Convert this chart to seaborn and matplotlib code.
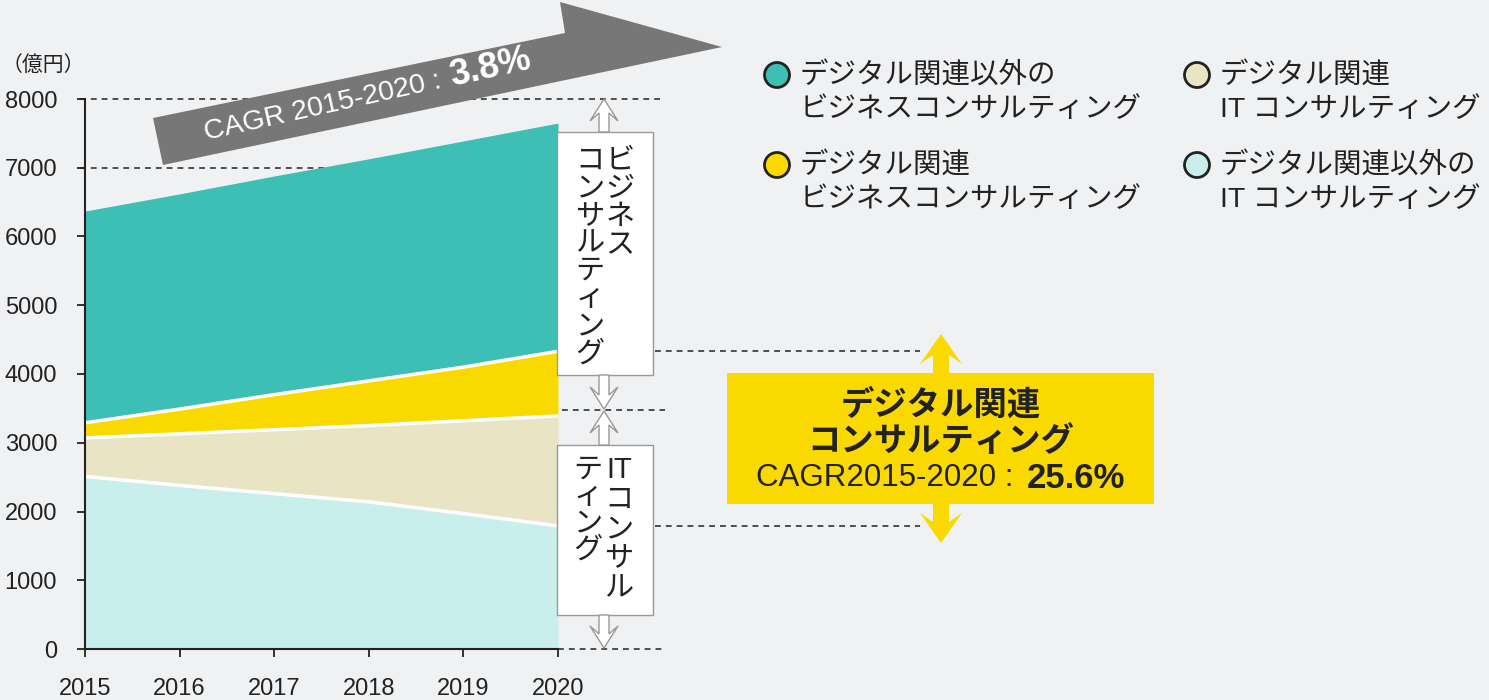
import matplotlib
matplotlib.use('Agg')
import matplotlib.pyplot as plt
import seaborn as sns
import pandas as pd
from matplotlib.patches import Polygon, Rectangle, Circle
from matplotlib.lines import Line2D
from matplotlib.transforms import Affine2D, blended_transform_factory

# data (億円)
years = [2015, 2016, 2017, 2018, 2019, 2020]
it_other = [2510, 2380, 2260, 2140, 1970, 1790]       # デジタル関連以外のITコンサルティング
it_digital = [560, 750, 930, 1110, 1350, 1600]        # デジタル関連ITコンサルティング
biz_digital = [220, 360, 510, 650, 780, 940]          # デジタル関連ビジネスコンサルティング
biz_other = [3080, 3130, 3180, 3230, 3290, 3320]      # デジタル関連以外のビジネスコンサルティング

layer_names = ['デジタル関連以外の\nIT コンサルティング', 'デジタル関連\nIT コンサルティング',
               'デジタル関連\nビジネスコンサルティング', 'デジタル関連以外の\nビジネスコンサルティング']
layer_colors = ['#c9efec', '#e9e4c4', '#fad900', '#3dbfb5']
y_ticks = [0, 1000, 2000, 3000, 4000, 5000, 6000, 7000, 8000]

W, H = 1489, 700
BG = '#f0f1f3'
INK = '#222222'

sns.set_theme(style='white')
plt.rcParams['font.family'] = ['Liberation Sans', 'Noto Sans CJK JP']
plt.rcParams['axes.unicode_minus'] = False

fig = plt.figure(figsize=(W / 100, H / 100), dpi=100, facecolor=BG)
# pixel coordinates, origin top-left
pix = Affine2D().scale(1 / W, -1 / H).translate(0, 1) + fig.transFigure

ax = fig.add_axes([85 / W, 51 / H, 473 / W, 550 / H])
ax.set_facecolor('none')

df = pd.DataFrame({'year': years, 'l0': it_other, 'l1': it_digital, 'l2': biz_digital, 'l3': biz_other})
ax.stackplot(df['year'], df['l0'], df['l1'], df['l2'], df['l3'], colors=layer_colors, linewidth=0, zorder=2)

# white separators between layers
cum = df[['l0', 'l1', 'l2']].cumsum(axis=1)
for c in cum.columns:
    sns.lineplot(x=df['year'], y=cum[c], color='white', linewidth=2.5, ax=ax, zorder=3)

ax.set_xlim(2015, 2020)
ax.set_ylim(0, 8000)
ax.set_xticks(years)
ax.set_yticks(y_ticks)
ax.set_xlabel('')
ax.set_ylabel('')
sns.despine(ax=ax)
for s in ['left', 'bottom']:
    ax.spines[s].set_color(INK)
    ax.spines[s].set_linewidth(1.5)
    ax.spines[s].set_zorder(5)
ax.tick_params(axis='y', left=True, direction='out', length=6, width=1.3, color=INK, pad=14,
               labelsize=17, labelcolor=INK)
ax.tick_params(axis='x', bottom=True, direction='out', length=6, width=1.3, color=INK, pad=15,
               labelsize=17, labelcolor=INK)

fig.text(2, 65, '（億円）', transform=pix, fontsize=15, va='center', ha='left', color=INK)

# dashed guide lines (x in pixels, y in data)
bt = blended_transform_factory(pix, ax.transData)
yellow_top = cum['l2'].iloc[-1]
cyan_top = cum['l0'].iloc[-1]
guides = [(8000, 80, 665), (7000, 80, 558), (yellow_top, 655, 920), (3480, 562, 665),
          (cyan_top, 655, 920), (0, 558, 665)]
for yv, x0, x1 in guides:
    fig.add_artist(Line2D([x0, x1], [yv, yv], transform=bt, color='#333333', lw=1.2,
                          linestyle=(0, (3.5, 3)), zorder=-1))

# big grey CAGR arrow
fig.add_artist(Polygon([(163, 165), (153, 118), (565, 33), (560, 2), (722, 47)], closed=True,
                       transform=pix, facecolor='#777777', edgecolor='none', zorder=1))
fig.text(206, 140, 'CAGR 2015-2020 : ', transform=pix, rotation=12.5, rotation_mode='anchor',
         ha='left', va='baseline', fontsize=20.5, color='white', zorder=4)
fig.text(452, 86, '3.8%', transform=pix, rotation=12.5, rotation_mode='anchor',
         ha='left', va='baseline', fontsize=26, fontweight='bold', color='white', zorder=4)


def chevron_arrow(x, ys, yt, shaft, head, length, notch, fc, ec, lw):
    # arrow from ys to tip yt with swept-back head
    d = 1 if yt > ys else -1
    pts = [(x - shaft, ys), (x + shaft, ys), (x + shaft, yt - d * (length - notch)),
           (x + head, yt - d * length), (x, yt), (x - head, yt - d * length),
           (x - shaft, yt - d * (length - notch))]
    fig.add_artist(Polygon(pts, closed=True, transform=pix, facecolor=fc, edgecolor=ec, lw=lw, zorder=3))


# white label boxes with vertical text
fig.add_artist(Rectangle((557, 132), 96, 243, transform=pix, facecolor='white', edgecolor='#999999', lw=1, zorder=2))
fig.add_artist(Rectangle((557, 445), 96, 170, transform=pix, facecolor='white', edgecolor='#999999', lw=1, zorder=2))


def vertical(chars, x, y0, pitch=27.5, size=21):
    for i, ch in enumerate(chars):
        fig.text(x, y0 + i * pitch, ch, transform=pix, ha='center', va='center',
                 fontsize=size, color=INK, zorder=4)


vertical(list('ビジネス'), 620, 161, pitch=28)
vertical(list('コンサルティング'), 590, 161)
vertical(['IT', 'コ', 'ン', 'サ', 'ル'], 619, 470, pitch=29.5)
vertical(list('ティング'), 588, 470, pitch=26.5)

# hollow arrows
for ys, yt in [(132, 99), (375, 409), (445, 411), (615, 648)]:
    chevron_arrow(604, ys, yt, 5, 14, 22, 8, 'white', '#999999', 1)

# yellow box and arrows
fig.add_artist(Rectangle((727, 373), 427, 131, transform=pix, facecolor='#fad900', edgecolor='none', zorder=2))
chevron_arrow(941, 374, 334, 8, 21, 30, 9, '#fad900', 'none', 0)
chevron_arrow(941, 503, 543, 8, 21, 30, 9, '#fad900', 'none', 0)
fig.text(941, 406, 'デジタル関連', transform=pix, ha='center', va='center', fontsize=24,
         fontweight='bold', color=INK, zorder=4)
fig.text(941, 442, 'コンサルティング', transform=pix, ha='center', va='center', fontsize=24,
         fontweight='bold', color=INK, zorder=4)
fig.text(1022, 478, 'CAGR2015-2020 : ', transform=pix, ha='right', va='center', fontsize=22.5,
         color=INK, zorder=4)
fig.text(1027, 478, '25.6%', transform=pix, ha='left', va='center', fontsize=25,
         fontweight='bold', color=INK, zorder=4)

# legend
legend_pos = {3: (777, 75), 2: (777, 165), 1: (1197, 75), 0: (1197, 165)}
for i, (cx, cy) in legend_pos.items():
    fig.add_artist(Circle((cx, cy), 12.5, transform=pix, facecolor=layer_colors[i], edgecolor=INK, lw=2, zorder=3))
    l1, l2 = layer_names[i].split('\n')
    fig.text(cx + 23, cy, l1, transform=pix, ha='left', va='center', fontsize=20.5, color=INK)
    fig.text(cx + 23, cy + 35, l2, transform=pix, ha='left', va='center', fontsize=20.5, color=INK)

fig.savefig('out.png', dpi=100, facecolor=BG)
